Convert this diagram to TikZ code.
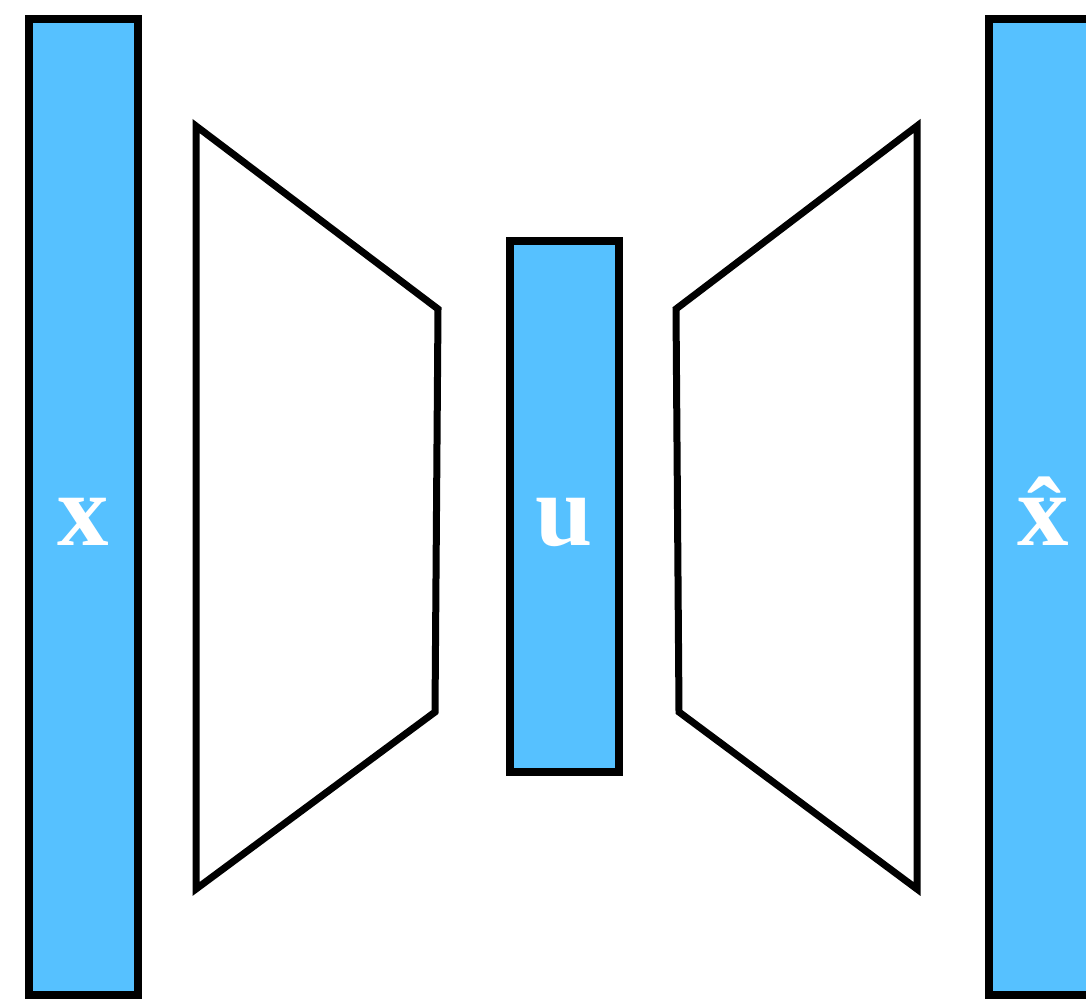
\documentclass[tikz,border=0pt]{standalone}
\usepackage{fontspec}
\setmainfont{Liberation Serif}
\definecolor{boxblue}{RGB}{86,193,255}
\begin{document}
\begin{tikzpicture}[x=1pt,y=-1pt,
  bar/.style={draw=black,line width=8pt,fill=boxblue},
  trap/.style={draw=black,line width=7pt,fill=white,line join=miter},
  lbl/.style={text=white,font=\fontsize{103}{110}\selectfont\bfseries,anchor=base,inner sep=0pt}]
\useasboundingbox (0,0) rectangle (1086,1001);
\draw[bar] (29,18.5) rectangle (138,995);
\draw[bar] (510,241) rectangle (619,772);
\draw[bar] (989,18.5) rectangle (1100,995);
\draw[trap] (196,126) -- (438,309) -- (435,712) -- (196,889) -- cycle;
\draw[trap] (917,126) -- (676,309) -- (679,712) -- (917,889) -- cycle;
\node[lbl] (x) at (83.5,545) {x};
\node[lbl] (u) at (564.5,545) {u};
\node[lbl] (xh) at (1043,545) {\^{x}};
\end{tikzpicture}
\end{document}
